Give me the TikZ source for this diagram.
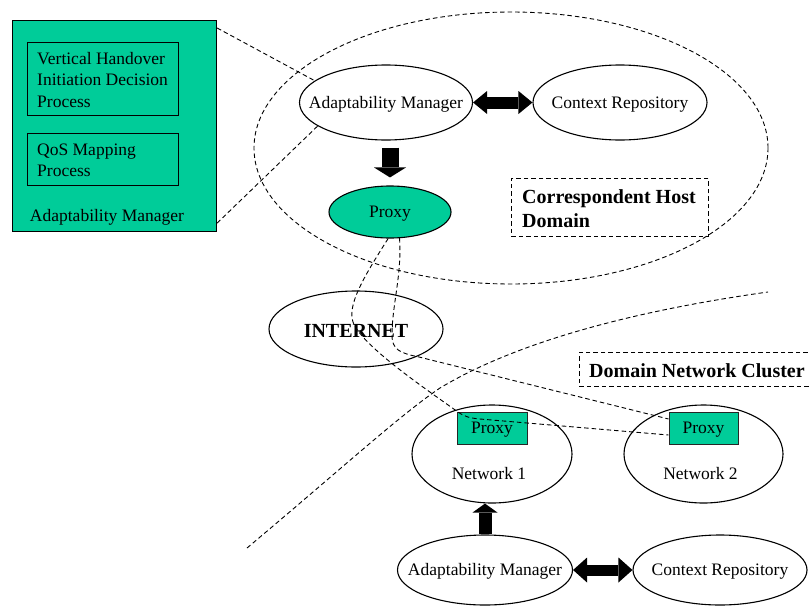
\documentclass[tikz,border=0pt]{standalone}
\usepackage{fontspec}
\setmainfont{Liberation Serif}
\usetikzlibrary{shapes.geometric,arrows.meta,calc}
\definecolor{sea}{RGB}{0,204,153}
\newcommand{\ctr}[1]{\makebox[0pt]{#1}}
\begin{document}
\begin{tikzpicture}[x=1pt,y=-1pt,
  dsh/.style={dash pattern=on 4.5pt off 3pt, line width=0.9pt},
  txt/.style={font=\fontsize{17.5}{21.5}\selectfont},
  btxt/.style={font=\fontsize{20}{23.5}\selectfont\bfseries},
  oval/.style={ellipse, draw, line width=1.1pt, inner sep=0pt, txt, text height=11.5pt, text depth=0pt},
  pbox/.style={draw=black!85, fill=sea, line width=1pt, minimum width=70pt, minimum height=32pt, inner sep=0pt, txt, text height=11.5pt, text depth=0pt},
  dbox/.style={draw, dsh, inner sep=0pt}
]
\useasboundingbox (0,0) rectangle (810,605);

% big domain ellipse
\node[ellipse, draw, dsh, minimum width=514pt, minimum height=272pt, inner sep=0pt] (chdomain) at (511,148) {};

% green adaptability manager box
\node[draw, fill=sea, line width=1.1pt, minimum width=204pt, minimum height=211pt, anchor=north west, inner sep=0pt] (gbox) at (12,20) {};
\node[draw, line width=0.9pt, minimum width=151pt, minimum height=73pt, anchor=north west, inner sep=0pt] (vhbox) at (27,42) {};
\node[txt, align=left, anchor=west, inner sep=0pt] (vhtext) at ($(vhbox.west)+(10,1)$) {Vertical Handover\\Initiation Decision\\Process};
\node[draw, line width=0.9pt, minimum width=151pt, minimum height=52pt, anchor=north west, inner sep=0pt] (qosbox) at (27,133) {};
\node[txt, align=left, anchor=west, inner sep=0pt] (qostext) at ($(qosbox.west)+(10,1)$) {QoS Mapping\\Process};
\node[txt, inner sep=0pt] (gboxlabel) at (107,217) {Adaptability Manager};

% correspondent host domain nodes
\node[oval, minimum width=173pt, minimum height=75pt] (am1) at (386,102.5) {\ctr{Adaptability Manager}};
\node[oval, minimum width=174pt, minimum height=75pt] (cr1) at (620,102.5) {\ctr{Context Repository}};
\node[oval, fill=sea, minimum width=122pt, minimum height=52pt] (proxy) at (390,212) {\ctr{Proxy}};
\node[dbox, minimum width=197pt, minimum height=58pt, anchor=north west] (chdlabelbox) at (511,178) {};
\node[btxt, align=left, anchor=west, inner sep=0pt] (chdlabel) at ($(chdlabelbox.west)+(11,1)$) {Correspondent Host\\Domain};

% internet
\node[oval, minimum width=174pt, minimum height=76pt, font=\fontsize{20}{23.5}\selectfont\bfseries, text height=16pt] (internet) at (356,329) {\ctr{INTERNET}};

% domain network cluster
\node[dbox, minimum width=236pt, minimum height=34pt, anchor=north west] (dnclabelbox) at (579,352) {};
\node[btxt, anchor=west, inner sep=0pt] (dnclabel) at ($(dnclabelbox.west)+(10,1)$) {Domain Network Cluster};

\node[oval, minimum width=160pt, minimum height=98pt] (net1) at (492,454) {};
\node[oval, minimum width=159pt, minimum height=98pt] (net2) at (703.5,454) {};
\node[txt, inner sep=0pt] (net1text) at ($(net1.center)+(-3,20)$) {Network 1};
\node[txt, inner sep=0pt] (net2text) at ($(net2.center)+(-3,20)$) {Network 2};
\node[pbox] (p1) at (492,428) {Proxy};
\node[pbox, minimum width=69pt] (p2) at (703.5,428) {Proxy};

\node[oval, minimum width=175pt, minimum height=70pt] (am2) at (485,570) {\ctr{Adaptability Manager}};
\node[oval, minimum width=174pt, minimum height=70pt] (cr2) at (720,570) {\ctr{Context Repository}};

% domain boundary curve
\coordinate (bstart) at (247,548);
\coordinate (bend) at (768,292);
\draw[dsh] (bstart) .. controls (340,470) and (400,415) .. (440,388)
                    .. controls (520,340) and (640,310) .. (bend);

% dashed lines from green box to adaptability manager
\draw[dsh] ([yshift=-8pt]gbox.north east) -- (am1.163);
\draw[dsh] ([yshift=9pt]gbox.south east) -- (am1.199);

% dashed proxy connections
\draw[dsh] (proxy.266) .. controls (365,275) and (350,300) .. (352,318)
  .. controls (354,340) and (420,385) .. (458,412)
  .. controls (465,417) and (470,418) .. (480,419) -- ([yshift=-7pt]p2.west);
\draw[dsh] (proxy.290) .. controls (402,275) and (392,305) .. (392,335)
  .. controls (392,350) and (400,353) .. (419,357) -- ([yshift=9pt]p2.west);

% thick arrows
\draw[line width=12pt, {Triangle[width=23pt, length=14pt, line width=0pt]}-{Triangle[width=23pt, length=14pt, line width=0pt]}] (am1.east) -- (cr1.west);
\draw[line width=17pt, -{Triangle[width=32pt, length=10pt, line width=0pt]}] ([xshift=4pt,yshift=-7pt]am1.south) -- ([yshift=8pt]proxy.north);
\draw[line width=13pt, -{Triangle[width=25pt, length=9pt, line width=0pt]}] (am2.north) -- (am2.north |- net1.south);
\draw[line width=11pt, {Triangle[width=25pt, length=14pt, line width=0pt]}-{Triangle[width=25pt, length=14pt, line width=0pt]}] (am2.east) -- (cr2.west);
\end{tikzpicture}
\end{document}
